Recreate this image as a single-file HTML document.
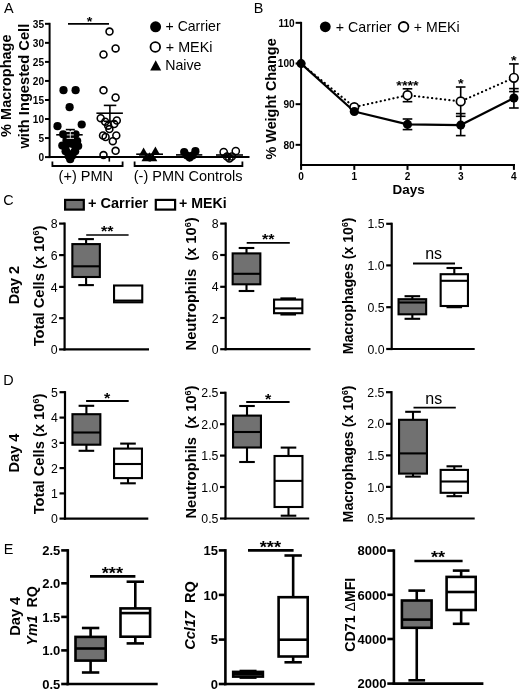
<!DOCTYPE html><html><head><meta charset="utf-8"><title>Figure</title><style>html,body{margin:0;padding:0;background:#fff}svg{display:block;filter:blur(0.35px)}text{fill:#000;font-family:"Liberation Sans",sans-serif}</style></head><body>
<svg width="520" height="690" viewBox="0 0 520 690">
<rect width="520" height="690" fill="#fff"/>
<text font-size="14.4" transform="translate(4 13.2)">A</text>
<text font-size="14.4" transform="translate(253.8 13.2)">B</text>
<text font-size="14.4" transform="translate(3.3 204.7)">C</text>
<text font-size="14.4" transform="translate(3.2 385)">D</text>
<text font-size="14.4" transform="translate(3.8 553.5)">E</text>
<line x1="49.6" y1="22.82" x2="49.6" y2="158.1" stroke="#000" stroke-width="2"/>
<line x1="48.6" y1="157.1" x2="249.5" y2="157.1" stroke="#000" stroke-width="2"/>
<line x1="45.0" y1="23.82" x2="49.6" y2="23.82" stroke="#000" stroke-width="2"/>
<text font-size="10.1" text-anchor="end" font-weight="bold" transform="translate(44.1 27.66)">35</text>
<line x1="45.0" y1="42.86" x2="49.6" y2="42.86" stroke="#000" stroke-width="2"/>
<text font-size="10.1" text-anchor="end" font-weight="bold" transform="translate(44.1 46.7)">30</text>
<line x1="45.0" y1="61.9" x2="49.6" y2="61.9" stroke="#000" stroke-width="2"/>
<text font-size="10.1" text-anchor="end" font-weight="bold" transform="translate(44.1 65.74)">25</text>
<line x1="45.0" y1="80.94" x2="49.6" y2="80.94" stroke="#000" stroke-width="2"/>
<text font-size="10.1" text-anchor="end" font-weight="bold" transform="translate(44.1 84.78)">20</text>
<line x1="45.0" y1="99.98" x2="49.6" y2="99.98" stroke="#000" stroke-width="2"/>
<text font-size="10.1" text-anchor="end" font-weight="bold" transform="translate(44.1 103.82)">15</text>
<line x1="45.0" y1="119.02" x2="49.6" y2="119.02" stroke="#000" stroke-width="2"/>
<text font-size="10.1" text-anchor="end" font-weight="bold" transform="translate(44.1 122.86)">10</text>
<line x1="45.0" y1="138.06" x2="49.6" y2="138.06" stroke="#000" stroke-width="2"/>
<text font-size="10.1" text-anchor="end" font-weight="bold" transform="translate(44.1 141.9)">5</text>
<line x1="45.0" y1="157.1" x2="49.6" y2="157.1" stroke="#000" stroke-width="2"/>
<text font-size="10.1" text-anchor="end" font-weight="bold" transform="translate(44.1 160.94)">0</text>
<text font-size="13.9" text-anchor="middle" font-weight="bold" transform="translate(10.7 85.7) rotate(-90) scale(1.0446 1)">% Macrophage</text>
<text font-size="13.9" text-anchor="middle" font-weight="bold" transform="translate(29 86.2) rotate(-90) scale(1.0568 1)">with Ingested Cell</text>
<line x1="68" y1="23.8" x2="109" y2="23.8" stroke="#000" stroke-width="1.8"/>
<text font-size="12.8" text-anchor="middle" font-weight="bold" transform="translate(89.6 25.5) scale(1.1235 1)">*</text>
<line x1="70.3" y1="157.1" x2="70.3" y2="161.6" stroke="#000" stroke-width="1.6"/>
<line x1="109.3" y1="157.1" x2="109.3" y2="161.6" stroke="#000" stroke-width="1.6"/>
<line x1="150" y1="157.1" x2="150" y2="161.6" stroke="#000" stroke-width="1.6"/>
<line x1="189.5" y1="157.1" x2="189.5" y2="161.6" stroke="#000" stroke-width="1.6"/>
<line x1="229" y1="157.1" x2="229" y2="161.6" stroke="#000" stroke-width="1.6"/>
<circle cx="63.5" cy="90.2" r="4.1" fill="#000"/>
<circle cx="75.6" cy="90.2" r="4.1" fill="#000"/>
<circle cx="69.6" cy="107.2" r="4.1" fill="#000"/>
<circle cx="57.5" cy="126.2" r="4.1" fill="#000"/>
<circle cx="81.7" cy="124.5" r="4.1" fill="#000"/>
<circle cx="63.2" cy="134.3" r="4.1" fill="#000"/>
<circle cx="75.6" cy="134.3" r="4.1" fill="#000"/>
<circle cx="69.5" cy="135.5" r="4.1" fill="#000"/>
<circle cx="66.5" cy="140.4" r="4.1" fill="#000"/>
<circle cx="73" cy="140.4" r="4.1" fill="#000"/>
<circle cx="77.2" cy="141" r="4.1" fill="#000"/>
<circle cx="62.3" cy="145.6" r="4.1" fill="#000"/>
<circle cx="68" cy="145" r="4.1" fill="#000"/>
<circle cx="73.5" cy="146" r="4.1" fill="#000"/>
<circle cx="78.2" cy="146" r="4.1" fill="#000"/>
<circle cx="65.6" cy="151.2" r="4.1" fill="#000"/>
<circle cx="70.5" cy="152.5" r="4.1" fill="#000"/>
<circle cx="75.2" cy="151.2" r="4.1" fill="#000"/>
<circle cx="68.6" cy="156" r="4.1" fill="#000"/>
<circle cx="72.4" cy="155.5" r="4.1" fill="#000"/>
<circle cx="70.2" cy="159.2" r="4.1" fill="#000"/>
<line x1="56.2" y1="134.8" x2="82.7" y2="134.8" stroke="#000" stroke-width="1.6"/>
<line x1="65.8" y1="129.6" x2="74.8" y2="129.6" stroke="#000" stroke-width="1.6"/>
<line x1="65.8" y1="139.6" x2="74.8" y2="139.6" stroke="#000" stroke-width="1.6"/>
<line x1="70.3" y1="129.6" x2="70.3" y2="139.6" stroke="#000" stroke-width="1.6"/>
<path d="M66.6 131.4H74M66.6 138.4H74M70.3 131.5V138.4M66.8 134.9H73.8" stroke="#fff" stroke-width="0.85" fill="none"/>
<path d="M69.2 147.2L71.8 148L70.3 150.6Z" fill="#fff"/>
<line x1="96.4" y1="113.2" x2="122.9" y2="113.2" stroke="#000" stroke-width="1.6"/>
<line x1="109.9" y1="105.4" x2="109.9" y2="121.3" stroke="#000" stroke-width="1.6"/>
<line x1="103.8" y1="105.4" x2="116.3" y2="105.4" stroke="#000" stroke-width="1.6"/>
<line x1="103.8" y1="121.3" x2="116.3" y2="121.3" stroke="#000" stroke-width="1.6"/>
<circle cx="109.5" cy="31.6" r="3.45" fill="none" stroke="#000" stroke-width="1.6"/>
<circle cx="115.6" cy="48.4" r="3.45" fill="none" stroke="#000" stroke-width="1.6"/>
<circle cx="103.5" cy="54.5" r="3.45" fill="none" stroke="#000" stroke-width="1.6"/>
<circle cx="103.5" cy="90.3" r="3.45" fill="none" stroke="#000" stroke-width="1.6"/>
<circle cx="115.6" cy="97.5" r="3.45" fill="none" stroke="#000" stroke-width="1.6"/>
<circle cx="100.7" cy="118.2" r="3.45" fill="none" stroke="#000" stroke-width="1.6"/>
<circle cx="116.8" cy="120.5" r="3.45" fill="none" stroke="#000" stroke-width="1.6"/>
<circle cx="105.2" cy="121.7" r="3.45" fill="none" stroke="#000" stroke-width="1.6"/>
<circle cx="114.2" cy="124" r="3.45" fill="none" stroke="#000" stroke-width="1.6"/>
<circle cx="108.2" cy="125.7" r="3.45" fill="none" stroke="#000" stroke-width="1.6"/>
<circle cx="109.4" cy="129.1" r="3.45" fill="none" stroke="#000" stroke-width="1.6"/>
<circle cx="103" cy="135.5" r="3.45" fill="none" stroke="#000" stroke-width="1.6"/>
<circle cx="116.3" cy="135.5" r="3.45" fill="none" stroke="#000" stroke-width="1.6"/>
<circle cx="105.6" cy="137" r="3.45" fill="none" stroke="#000" stroke-width="1.6"/>
<circle cx="112.8" cy="141.2" r="3.45" fill="none" stroke="#000" stroke-width="1.6"/>
<circle cx="115.6" cy="150.8" r="3.45" fill="none" stroke="#000" stroke-width="1.6"/>
<circle cx="103.5" cy="155.1" r="3.45" fill="none" stroke="#000" stroke-width="1.6"/>
<line x1="136.2" y1="154.2" x2="163" y2="154.2" stroke="#000" stroke-width="1.6"/>
<path d="M143.6 147.4L148.29999999999998 155.8H138.9Z" fill="#000"/>
<path d="M155.4 146.4L160.1 154.8H150.70000000000002Z" fill="#000"/>
<path d="M149.5 152.2L154.2 160.6H144.8Z" fill="#000"/>
<path d="M146.2 152.8L150.89999999999998 161.20000000000002H141.5Z" fill="#000"/>
<path d="M152.6 152.8L157.29999999999998 161.20000000000002H147.9Z" fill="#000"/>
<line x1="176" y1="154.9" x2="202.3" y2="154.9" stroke="#000" stroke-width="1.6"/>
<circle cx="184.2" cy="152" r="4.1" fill="#000"/>
<circle cx="195.4" cy="151.2" r="4.1" fill="#000"/>
<circle cx="189.7" cy="157.5" r="4.1" fill="#000"/>
<circle cx="187" cy="155.5" r="4.1" fill="#000"/>
<circle cx="192.6" cy="155.5" r="4.1" fill="#000"/>
<line x1="216" y1="155" x2="243" y2="155" stroke="#000" stroke-width="1.6"/>
<circle cx="223.7" cy="152.1" r="3.6" fill="none" stroke="#000" stroke-width="1.5"/>
<circle cx="235.8" cy="151" r="3.6" fill="none" stroke="#000" stroke-width="1.5"/>
<circle cx="227" cy="156.5" r="3.6" fill="none" stroke="#000" stroke-width="1.5"/>
<circle cx="231.8" cy="156.5" r="3.6" fill="none" stroke="#000" stroke-width="1.5"/>
<circle cx="229.4" cy="158.3" r="3.6" fill="none" stroke="#000" stroke-width="1.5"/>
<path d="M52.4 161.5V166H122.6V161.5" fill="none" stroke="#000" stroke-width="1.8"/>
<path d="M134.6 161.5V166H242.4V161.5" fill="none" stroke="#000" stroke-width="1.8"/>
<text font-size="14.5" text-anchor="middle" transform="translate(85.8 180.7)">(+) PMN</text>
<text font-size="14.5" text-anchor="middle" transform="translate(188.1 180.7)">(-) PMN Controls</text>
<circle cx="155.6" cy="26.8" r="5.5" fill="#000"/>
<text font-size="14.2" transform="translate(165.5 31.3) scale(0.9929 1)">+ Carrier</text>
<circle cx="155.3" cy="47" r="4.8" fill="none" stroke="#000" stroke-width="1.8"/>
<text font-size="14.2" transform="translate(165.8 51.9) scale(1.0103 1)">+ MEKi</text>
<path d="M155.7 60.2L161.2 70.4H150.2Z" fill="#000"/>
<text font-size="14.2" transform="translate(165.2 70.4) scale(0.9978 1)">Naive</text>
<line x1="301.1" y1="21.83" x2="301.1" y2="165.9" stroke="#000" stroke-width="2"/>
<line x1="300.1" y1="164.9" x2="515" y2="164.9" stroke="#000" stroke-width="2"/>
<line x1="295.6" y1="22.83" x2="301.1" y2="22.83" stroke="#000" stroke-width="2"/>
<text font-size="10.1" text-anchor="end" font-weight="bold" transform="translate(294.70000000000005 26.67)">110</text>
<line x1="295.6" y1="63.5" x2="301.1" y2="63.5" stroke="#000" stroke-width="2"/>
<text font-size="10.1" text-anchor="end" font-weight="bold" transform="translate(294.70000000000005 67.34)">100</text>
<line x1="295.6" y1="104.17" x2="301.1" y2="104.17" stroke="#000" stroke-width="2"/>
<text font-size="10.1" text-anchor="end" font-weight="bold" transform="translate(294.70000000000005 108.01)">90</text>
<line x1="295.6" y1="144.84" x2="301.1" y2="144.84" stroke="#000" stroke-width="2"/>
<text font-size="10.1" text-anchor="end" font-weight="bold" transform="translate(294.70000000000005 148.68)">80</text>
<line x1="301.1" y1="164.9" x2="301.1" y2="169.9" stroke="#000" stroke-width="2"/>
<text font-size="10.1" text-anchor="middle" font-weight="bold" transform="translate(301.1 180.3)">0</text>
<line x1="354.3" y1="164.9" x2="354.3" y2="169.9" stroke="#000" stroke-width="2"/>
<text font-size="10.1" text-anchor="middle" font-weight="bold" transform="translate(354.3 180.3)">1</text>
<line x1="407.5" y1="164.9" x2="407.5" y2="169.9" stroke="#000" stroke-width="2"/>
<text font-size="10.1" text-anchor="middle" font-weight="bold" transform="translate(407.5 180.3)">2</text>
<line x1="460.7" y1="164.9" x2="460.7" y2="169.9" stroke="#000" stroke-width="2"/>
<text font-size="10.1" text-anchor="middle" font-weight="bold" transform="translate(460.7 180.3)">3</text>
<line x1="513.9" y1="164.9" x2="513.9" y2="169.9" stroke="#000" stroke-width="2"/>
<text font-size="10.1" text-anchor="middle" font-weight="bold" transform="translate(513.9 180.3)">4</text>
<text font-size="13.6" text-anchor="middle" font-weight="bold" transform="translate(408.7 194.2) scale(0.9908 1)">Days</text>
<text font-size="13.9" text-anchor="middle" font-weight="bold" transform="translate(275.8 98.9) rotate(-90) scale(1.0355 1)">% Weight Change</text>
<circle cx="325.3" cy="26.8" r="5.4" fill="#000"/>
<text font-size="14.2" transform="translate(335.8 32) scale(1.0037 1)">+ Carrier</text>
<circle cx="403.6" cy="26.8" r="4.8" fill="none" stroke="#000" stroke-width="1.8"/>
<text font-size="14.2" transform="translate(413.8 32) scale(0.993 1)">+ MEKi</text>
<polyline points="301.1,63.6 354.3,107.1 407.5,95.2 460.7,101.4 513.9,77.8" fill="none" stroke="#000" stroke-width="2.1" stroke-dasharray="0.2 4.15" stroke-linecap="round"/>
<polyline points="301.1,63.6 354.3,111.5 407.5,124.4 460.7,125.1 513.9,98" fill="none" stroke="#000" stroke-width="2.2" stroke-linejoin="round"/>
<line x1="407.5" y1="88.8" x2="407.5" y2="101.7" stroke="#000" stroke-width="1.6"/>
<line x1="402.7" y1="88.8" x2="412.3" y2="88.8" stroke="#000" stroke-width="1.6"/>
<line x1="402.7" y1="101.7" x2="412.3" y2="101.7" stroke="#000" stroke-width="1.6"/>
<line x1="460.7" y1="87" x2="460.7" y2="116.3" stroke="#000" stroke-width="1.6"/>
<line x1="455.9" y1="87" x2="465.5" y2="87" stroke="#000" stroke-width="1.6"/>
<line x1="455.9" y1="116.3" x2="465.5" y2="116.3" stroke="#000" stroke-width="1.6"/>
<line x1="513.9" y1="63.9" x2="513.9" y2="91.6" stroke="#000" stroke-width="1.6"/>
<line x1="509.09999999999997" y1="63.9" x2="518.6999999999999" y2="63.9" stroke="#000" stroke-width="1.6"/>
<line x1="509.09999999999997" y1="91.6" x2="518.6999999999999" y2="91.6" stroke="#000" stroke-width="1.6"/>
<line x1="407.5" y1="119" x2="407.5" y2="129.6" stroke="#000" stroke-width="1.6"/>
<line x1="402.7" y1="119" x2="412.3" y2="119" stroke="#000" stroke-width="1.6"/>
<line x1="402.7" y1="129.6" x2="412.3" y2="129.6" stroke="#000" stroke-width="1.6"/>
<line x1="460.7" y1="113.6" x2="460.7" y2="135.6" stroke="#000" stroke-width="1.6"/>
<line x1="455.9" y1="113.6" x2="465.5" y2="113.6" stroke="#000" stroke-width="1.6"/>
<line x1="455.9" y1="135.6" x2="465.5" y2="135.6" stroke="#000" stroke-width="1.6"/>
<line x1="513.9" y1="88.6" x2="513.9" y2="108" stroke="#000" stroke-width="1.6"/>
<line x1="509.09999999999997" y1="88.6" x2="518.6999999999999" y2="88.6" stroke="#000" stroke-width="1.6"/>
<line x1="509.09999999999997" y1="108" x2="518.6999999999999" y2="108" stroke="#000" stroke-width="1.6"/>
<circle cx="354.3" cy="107.1" r="4.3" fill="#fff" stroke="#000" stroke-width="1.7"/>
<circle cx="407.5" cy="95.2" r="4.3" fill="#fff" stroke="#000" stroke-width="1.7"/>
<circle cx="460.7" cy="101.4" r="4.3" fill="#fff" stroke="#000" stroke-width="1.7"/>
<circle cx="513.9" cy="77.8" r="4.3" fill="#fff" stroke="#000" stroke-width="1.7"/>
<circle cx="301.1" cy="63.6" r="4.55" fill="#000"/>
<circle cx="354.3" cy="111.5" r="4.55" fill="#000"/>
<circle cx="407.5" cy="124.4" r="4.55" fill="#000"/>
<circle cx="460.7" cy="125.1" r="4.55" fill="#000"/>
<circle cx="513.9" cy="98" r="4.55" fill="#000"/>
<text font-size="12.8" text-anchor="middle" font-weight="bold" transform="translate(407.5 89.7) scale(1.1244 1)">****</text>
<text font-size="12.8" text-anchor="middle" font-weight="bold" transform="translate(460.7 88.2) scale(1.1235 1)">*</text>
<text font-size="12.8" text-anchor="middle" font-weight="bold" transform="translate(513.9 64.5) scale(1.1235 1)">*</text>
<rect x="65.1" y="199.9" width="18.7" height="9.7" fill="#717171" stroke="#000" stroke-width="2.2"/>
<text font-size="13.9" font-weight="bold" transform="translate(88 208.2) scale(1.0464 1)">+ Carrier</text>
<rect x="155.8" y="199.9" width="19.3" height="9.7" fill="#fff" stroke="#000" stroke-width="2.2"/>
<text font-size="13.9" font-weight="bold" transform="translate(179 208.2) scale(1.0192 1)">+ MEKi</text>
<line x1="64.6" y1="222.5" x2="64.6" y2="350.5" stroke="#000" stroke-width="2.2"/>
<line x1="63.49999999999999" y1="349.4" x2="149" y2="349.4" stroke="#000" stroke-width="2.2"/>
<line x1="59.099999999999994" y1="223.6" x2="64.6" y2="223.6" stroke="#000" stroke-width="2.2"/>
<text font-size="12.3" text-anchor="end" transform="translate(57.49999999999999 228.23)">8</text>
<line x1="59.099999999999994" y1="255.1" x2="64.6" y2="255.1" stroke="#000" stroke-width="2.2"/>
<text font-size="12.3" text-anchor="end" transform="translate(57.49999999999999 259.73)">6</text>
<line x1="59.099999999999994" y1="286.9" x2="64.6" y2="286.9" stroke="#000" stroke-width="2.2"/>
<text font-size="12.3" text-anchor="end" transform="translate(57.49999999999999 291.53)">4</text>
<line x1="59.099999999999994" y1="318.2" x2="64.6" y2="318.2" stroke="#000" stroke-width="2.2"/>
<text font-size="12.3" text-anchor="end" transform="translate(57.49999999999999 322.83)">2</text>
<line x1="59.099999999999994" y1="349.4" x2="64.6" y2="349.4" stroke="#000" stroke-width="2.2"/>
<text font-size="12.3" text-anchor="end" transform="translate(57.49999999999999 354.03)">0</text>
<line x1="86.1" y1="239.1" x2="86.1" y2="244.1" stroke="#000" stroke-width="2.1"/>
<line x1="86.1" y1="277" x2="86.1" y2="285.1" stroke="#000" stroke-width="2.1"/>
<line x1="78.3" y1="239.1" x2="93.89999999999999" y2="239.1" stroke="#000" stroke-width="2.1"/>
<line x1="78.3" y1="285.1" x2="93.89999999999999" y2="285.1" stroke="#000" stroke-width="2.1"/>
<rect x="72.35" y="244.1" width="27.5" height="32.9" fill="#717171" stroke="#000" stroke-width="2.1"/>
<line x1="72.35" y1="266.3" x2="99.85000000000001" y2="266.3" stroke="#000" stroke-width="2.1"/>
<rect x="114.05" y="285.5" width="28.2" height="16.8" fill="#fff" stroke="#000" stroke-width="2.1"/>
<line x1="114.05" y1="300.6" x2="142.25" y2="300.6" stroke="#000" stroke-width="2.1"/>
<line x1="86.2" y1="235" x2="128.6" y2="235" stroke="#000" stroke-width="1.7"/>
<text font-size="14" text-anchor="middle" font-weight="bold" transform="translate(107.3 236.2) scale(1.1461 1)">**</text>
<text font-size="13.9" text-anchor="middle" font-weight="bold" transform="translate(44.1 286) rotate(-90) scale(1.0569 1)">Total Cells (x 10<tspan font-size="8.5" dy="-5">6</tspan><tspan dy="5">)</tspan></text>
<text font-size="13.9" text-anchor="middle" font-weight="bold" transform="translate(19.4 285.1) rotate(-90) scale(1.0357 1)">Day 2</text>
<line x1="225.7" y1="222.5" x2="225.7" y2="350.3" stroke="#000" stroke-width="2.2"/>
<line x1="224.6" y1="349.2" x2="310.5" y2="349.2" stroke="#000" stroke-width="2.2"/>
<line x1="220.2" y1="223.6" x2="225.7" y2="223.6" stroke="#000" stroke-width="2.2"/>
<text font-size="12.3" text-anchor="end" transform="translate(218.6 228.23)">8</text>
<line x1="220.2" y1="255" x2="225.7" y2="255" stroke="#000" stroke-width="2.2"/>
<text font-size="12.3" text-anchor="end" transform="translate(218.6 259.63)">6</text>
<line x1="220.2" y1="286.8" x2="225.7" y2="286.8" stroke="#000" stroke-width="2.2"/>
<text font-size="12.3" text-anchor="end" transform="translate(218.6 291.43)">4</text>
<line x1="220.2" y1="318" x2="225.7" y2="318" stroke="#000" stroke-width="2.2"/>
<text font-size="12.3" text-anchor="end" transform="translate(218.6 322.63)">2</text>
<line x1="220.2" y1="349.2" x2="225.7" y2="349.2" stroke="#000" stroke-width="2.2"/>
<text font-size="12.3" text-anchor="end" transform="translate(218.6 353.83)">0</text>
<line x1="246.5" y1="248" x2="246.5" y2="253.4" stroke="#000" stroke-width="2.1"/>
<line x1="246.5" y1="284.3" x2="246.5" y2="291" stroke="#000" stroke-width="2.1"/>
<line x1="238.7" y1="248" x2="254.3" y2="248" stroke="#000" stroke-width="2.1"/>
<line x1="238.7" y1="291" x2="254.3" y2="291" stroke="#000" stroke-width="2.1"/>
<rect x="232.65" y="253.4" width="27.7" height="30.9" fill="#717171" stroke="#000" stroke-width="2.1"/>
<line x1="232.65" y1="273.8" x2="260.34999999999997" y2="273.8" stroke="#000" stroke-width="2.1"/>
<line x1="288.2" y1="298.4" x2="288.2" y2="299.6" stroke="#000" stroke-width="2.1"/>
<line x1="288.2" y1="313.2" x2="288.2" y2="314.5" stroke="#000" stroke-width="2.1"/>
<line x1="280.4" y1="298.4" x2="296.0" y2="298.4" stroke="#000" stroke-width="2.1"/>
<line x1="280.4" y1="314.5" x2="296.0" y2="314.5" stroke="#000" stroke-width="2.1"/>
<rect x="274.05" y="299.6" width="28.3" height="13.6" fill="#fff" stroke="#000" stroke-width="2.1"/>
<line x1="274.05" y1="308.4" x2="302.34999999999997" y2="308.4" stroke="#000" stroke-width="2.1"/>
<line x1="246.7" y1="242.9" x2="289.8" y2="242.9" stroke="#000" stroke-width="1.8"/>
<text font-size="14" text-anchor="middle" font-weight="bold" transform="translate(268.2 244) scale(1.1461 1)">**</text>
<text font-size="13.9" text-anchor="middle" font-weight="bold" transform="translate(195.9 283.9) rotate(-90) scale(1.0561 1)" xml:space="preserve">Neutrophils  (x 10<tspan font-size="8.5" dy="-5">6</tspan><tspan dy="5">)</tspan></text>
<line x1="391.7" y1="222.70000000000002" x2="391.7" y2="350.1" stroke="#000" stroke-width="2.2"/>
<line x1="390.59999999999997" y1="349" x2="474.7" y2="349" stroke="#000" stroke-width="2.2"/>
<line x1="386.2" y1="223.8" x2="391.7" y2="223.8" stroke="#000" stroke-width="2.2"/>
<text font-size="12.3" text-anchor="end" transform="translate(384.59999999999997 228.43)">1.5</text>
<line x1="386.2" y1="265.4" x2="391.7" y2="265.4" stroke="#000" stroke-width="2.2"/>
<text font-size="12.3" text-anchor="end" transform="translate(384.59999999999997 270.03)">1.0</text>
<line x1="386.2" y1="307.2" x2="391.7" y2="307.2" stroke="#000" stroke-width="2.2"/>
<text font-size="12.3" text-anchor="end" transform="translate(384.59999999999997 311.83)">0.5</text>
<line x1="386.2" y1="349" x2="391.7" y2="349" stroke="#000" stroke-width="2.2"/>
<text font-size="12.3" text-anchor="end" transform="translate(384.59999999999997 353.63)">0.0</text>
<line x1="412.35" y1="296.2" x2="412.35" y2="299.2" stroke="#000" stroke-width="2.1"/>
<line x1="412.35" y1="314.3" x2="412.35" y2="318.8" stroke="#000" stroke-width="2.1"/>
<line x1="404.55" y1="296.2" x2="420.15000000000003" y2="296.2" stroke="#000" stroke-width="2.1"/>
<line x1="404.55" y1="318.8" x2="420.15000000000003" y2="318.8" stroke="#000" stroke-width="2.1"/>
<rect x="398.55" y="299.2" width="27.6" height="15.1" fill="#717171" stroke="#000" stroke-width="2.1"/>
<line x1="398.55" y1="302.5" x2="426.15" y2="302.5" stroke="#000" stroke-width="2.1"/>
<line x1="454.3" y1="268" x2="454.3" y2="274.2" stroke="#000" stroke-width="2.1"/>
<line x1="454.3" y1="306" x2="454.3" y2="307.2" stroke="#000" stroke-width="2.1"/>
<line x1="446.5" y1="268" x2="462.1" y2="268" stroke="#000" stroke-width="2.1"/>
<line x1="446.5" y1="307.2" x2="462.1" y2="307.2" stroke="#000" stroke-width="2.1"/>
<rect x="440.65000000000003" y="274.2" width="27.3" height="31.8" fill="#fff" stroke="#000" stroke-width="2.1"/>
<line x1="440.65000000000003" y1="280.8" x2="467.95" y2="280.8" stroke="#000" stroke-width="2.1"/>
<line x1="413" y1="263.5" x2="455" y2="263.5" stroke="#000" stroke-width="1.8"/>
<text font-size="16" text-anchor="middle" transform="translate(433.6 259.3)">ns</text>
<text font-size="13.9" text-anchor="middle" font-weight="bold" transform="translate(352.9 285.9) rotate(-90) scale(1.0175 1)">Macrophages (x 10<tspan font-size="8.5" dy="-5">6</tspan><tspan dy="5">)</tspan></text>
<line x1="65" y1="391.09999999999997" x2="65" y2="519.7" stroke="#000" stroke-width="2.2"/>
<line x1="63.9" y1="518.6" x2="148.3" y2="518.6" stroke="#000" stroke-width="2.2"/>
<line x1="59.5" y1="392.2" x2="65" y2="392.2" stroke="#000" stroke-width="2.2"/>
<text font-size="12.3" text-anchor="end" transform="translate(57.9 396.83)">5</text>
<line x1="59.5" y1="417.6" x2="65" y2="417.6" stroke="#000" stroke-width="2.2"/>
<text font-size="12.3" text-anchor="end" transform="translate(57.9 422.23)">4</text>
<line x1="59.5" y1="442.9" x2="65" y2="442.9" stroke="#000" stroke-width="2.2"/>
<text font-size="12.3" text-anchor="end" transform="translate(57.9 447.53)">3</text>
<line x1="59.5" y1="468.1" x2="65" y2="468.1" stroke="#000" stroke-width="2.2"/>
<text font-size="12.3" text-anchor="end" transform="translate(57.9 472.73)">2</text>
<line x1="59.5" y1="493.4" x2="65" y2="493.4" stroke="#000" stroke-width="2.2"/>
<text font-size="12.3" text-anchor="end" transform="translate(57.9 498.03)">1</text>
<line x1="59.5" y1="518.6" x2="65" y2="518.6" stroke="#000" stroke-width="2.2"/>
<text font-size="12.3" text-anchor="end" transform="translate(57.9 523.23)">0</text>
<line x1="86.4" y1="405.8" x2="86.4" y2="414.2" stroke="#000" stroke-width="2.1"/>
<line x1="86.4" y1="444.7" x2="86.4" y2="450.8" stroke="#000" stroke-width="2.1"/>
<line x1="78.60000000000001" y1="405.8" x2="94.2" y2="405.8" stroke="#000" stroke-width="2.1"/>
<line x1="78.60000000000001" y1="450.8" x2="94.2" y2="450.8" stroke="#000" stroke-width="2.1"/>
<rect x="72.45" y="414.2" width="27.9" height="30.5" fill="#717171" stroke="#000" stroke-width="2.1"/>
<line x1="72.45" y1="432.5" x2="100.35000000000001" y2="432.5" stroke="#000" stroke-width="2.1"/>
<line x1="128.0" y1="443.6" x2="128.0" y2="448.6" stroke="#000" stroke-width="2.1"/>
<line x1="128.0" y1="478.1" x2="128.0" y2="483.3" stroke="#000" stroke-width="2.1"/>
<line x1="120.2" y1="443.6" x2="135.8" y2="443.6" stroke="#000" stroke-width="2.1"/>
<line x1="120.2" y1="483.3" x2="135.8" y2="483.3" stroke="#000" stroke-width="2.1"/>
<rect x="114.05" y="448.6" width="27.9" height="29.5" fill="#fff" stroke="#000" stroke-width="2.1"/>
<line x1="114.05" y1="464" x2="141.95" y2="464" stroke="#000" stroke-width="2.1"/>
<line x1="86.1" y1="401" x2="128.7" y2="401" stroke="#000" stroke-width="1.8"/>
<text font-size="14" text-anchor="middle" font-weight="bold" transform="translate(107.2 402.8) scale(1.1553 1)">*</text>
<text font-size="13.9" text-anchor="middle" font-weight="bold" transform="translate(44.1 454) rotate(-90) scale(1.0569 1)">Total Cells (x 10<tspan font-size="8.5" dy="-5">6</tspan><tspan dy="5">)</tspan></text>
<text font-size="13.9" text-anchor="middle" font-weight="bold" transform="translate(19.4 453) rotate(-90) scale(1.0518 1)">Day 4</text>
<line x1="225.5" y1="391.7" x2="225.5" y2="519.6" stroke="#000" stroke-width="2.2"/>
<line x1="224.4" y1="518.5" x2="309.2" y2="518.5" stroke="#000" stroke-width="2.2"/>
<line x1="220.0" y1="392.8" x2="225.5" y2="392.8" stroke="#000" stroke-width="2.2"/>
<text font-size="12.3" text-anchor="end" transform="translate(218.4 397.43)">2.5</text>
<line x1="220.0" y1="424.2" x2="225.5" y2="424.2" stroke="#000" stroke-width="2.2"/>
<text font-size="12.3" text-anchor="end" transform="translate(218.4 428.83)">2.0</text>
<line x1="220.0" y1="455.6" x2="225.5" y2="455.6" stroke="#000" stroke-width="2.2"/>
<text font-size="12.3" text-anchor="end" transform="translate(218.4 460.23)">1.5</text>
<line x1="220.0" y1="487" x2="225.5" y2="487" stroke="#000" stroke-width="2.2"/>
<text font-size="12.3" text-anchor="end" transform="translate(218.4 491.63)">1.0</text>
<line x1="220.0" y1="518.5" x2="225.5" y2="518.5" stroke="#000" stroke-width="2.2"/>
<text font-size="12.3" text-anchor="end" transform="translate(218.4 523.13)">0.5</text>
<line x1="247.0" y1="406" x2="247.0" y2="415.6" stroke="#000" stroke-width="2.1"/>
<line x1="247.0" y1="447.5" x2="247.0" y2="462" stroke="#000" stroke-width="2.1"/>
<line x1="239.2" y1="406" x2="254.8" y2="406" stroke="#000" stroke-width="2.1"/>
<line x1="239.2" y1="462" x2="254.8" y2="462" stroke="#000" stroke-width="2.1"/>
<rect x="233.05" y="415.6" width="27.9" height="31.9" fill="#717171" stroke="#000" stroke-width="2.1"/>
<line x1="233.05" y1="432" x2="260.95" y2="432" stroke="#000" stroke-width="2.1"/>
<line x1="288.5" y1="447.6" x2="288.5" y2="456" stroke="#000" stroke-width="2.1"/>
<line x1="288.5" y1="507" x2="288.5" y2="515.7" stroke="#000" stroke-width="2.1"/>
<line x1="280.7" y1="447.6" x2="296.3" y2="447.6" stroke="#000" stroke-width="2.1"/>
<line x1="280.7" y1="515.7" x2="296.3" y2="515.7" stroke="#000" stroke-width="2.1"/>
<rect x="274.55" y="456" width="27.9" height="51" fill="#fff" stroke="#000" stroke-width="2.1"/>
<line x1="274.55" y1="480.9" x2="302.45" y2="480.9" stroke="#000" stroke-width="2.1"/>
<line x1="246.2" y1="402" x2="289.6" y2="402" stroke="#000" stroke-width="1.8"/>
<text font-size="14" text-anchor="middle" font-weight="bold" transform="translate(268.2 403.6) scale(1.1553 1)">*</text>
<text font-size="13.9" text-anchor="middle" font-weight="bold" transform="translate(195.9 452) rotate(-90) scale(1.0561 1)" xml:space="preserve">Neutrophils  (x 10<tspan font-size="8.5" dy="-5">6</tspan><tspan dy="5">)</tspan></text>
<line x1="391.5" y1="391.09999999999997" x2="391.5" y2="519.6" stroke="#000" stroke-width="2.2"/>
<line x1="390.4" y1="518.5" x2="474.7" y2="518.5" stroke="#000" stroke-width="2.2"/>
<line x1="386.0" y1="392.2" x2="391.5" y2="392.2" stroke="#000" stroke-width="2.2"/>
<text font-size="12.3" text-anchor="end" transform="translate(384.4 396.83)">2.5</text>
<line x1="386.0" y1="423.8" x2="391.5" y2="423.8" stroke="#000" stroke-width="2.2"/>
<text font-size="12.3" text-anchor="end" transform="translate(384.4 428.43)">2.0</text>
<line x1="386.0" y1="455.4" x2="391.5" y2="455.4" stroke="#000" stroke-width="2.2"/>
<text font-size="12.3" text-anchor="end" transform="translate(384.4 460.03)">1.5</text>
<line x1="386.0" y1="486.9" x2="391.5" y2="486.9" stroke="#000" stroke-width="2.2"/>
<text font-size="12.3" text-anchor="end" transform="translate(384.4 491.53)">1.0</text>
<line x1="386.0" y1="518.5" x2="391.5" y2="518.5" stroke="#000" stroke-width="2.2"/>
<text font-size="12.3" text-anchor="end" transform="translate(384.4 523.13)">0.5</text>
<line x1="413.0" y1="411.8" x2="413.0" y2="419.8" stroke="#000" stroke-width="2.1"/>
<line x1="413.0" y1="473.6" x2="413.0" y2="476.6" stroke="#000" stroke-width="2.1"/>
<line x1="405.2" y1="411.8" x2="420.8" y2="411.8" stroke="#000" stroke-width="2.1"/>
<line x1="405.2" y1="476.6" x2="420.8" y2="476.6" stroke="#000" stroke-width="2.1"/>
<rect x="399.05" y="419.8" width="27.9" height="53.8" fill="#717171" stroke="#000" stroke-width="2.1"/>
<line x1="399.05" y1="453.4" x2="426.95" y2="453.4" stroke="#000" stroke-width="2.1"/>
<line x1="454.3" y1="466.3" x2="454.3" y2="469.9" stroke="#000" stroke-width="2.1"/>
<line x1="454.3" y1="492.8" x2="454.3" y2="496.2" stroke="#000" stroke-width="2.1"/>
<line x1="446.5" y1="466.3" x2="462.1" y2="466.3" stroke="#000" stroke-width="2.1"/>
<line x1="446.5" y1="496.2" x2="462.1" y2="496.2" stroke="#000" stroke-width="2.1"/>
<rect x="440.65000000000003" y="469.9" width="27.3" height="22.9" fill="#fff" stroke="#000" stroke-width="2.1"/>
<line x1="440.65000000000003" y1="481.5" x2="467.95" y2="481.5" stroke="#000" stroke-width="2.1"/>
<line x1="413.5" y1="407.7" x2="455.8" y2="407.7" stroke="#000" stroke-width="1.8"/>
<text font-size="16" text-anchor="middle" transform="translate(433.8 403.8)">ns</text>
<text font-size="13.9" text-anchor="middle" font-weight="bold" transform="translate(352.9 454) rotate(-90) scale(1.0175 1)">Macrophages (x 10<tspan font-size="8.5" dy="-5">6</tspan><tspan dy="5">)</tspan></text>
<line x1="67.8" y1="549.1" x2="67.8" y2="685.3" stroke="#000" stroke-width="2.6"/>
<line x1="66.5" y1="684" x2="157.7" y2="684" stroke="#000" stroke-width="2.6"/>
<line x1="61.199999999999996" y1="550.4" x2="67.8" y2="550.4" stroke="#000" stroke-width="2.6"/>
<text font-size="13" text-anchor="end" font-weight="bold" transform="translate(60.3 555.28)">2.5</text>
<line x1="61.199999999999996" y1="583.3" x2="67.8" y2="583.3" stroke="#000" stroke-width="2.6"/>
<text font-size="13" text-anchor="end" font-weight="bold" transform="translate(60.3 588.18)">2.0</text>
<line x1="61.199999999999996" y1="616.9" x2="67.8" y2="616.9" stroke="#000" stroke-width="2.6"/>
<text font-size="13" text-anchor="end" font-weight="bold" transform="translate(60.3 621.78)">1.5</text>
<line x1="61.199999999999996" y1="650.4" x2="67.8" y2="650.4" stroke="#000" stroke-width="2.6"/>
<text font-size="13" text-anchor="end" font-weight="bold" transform="translate(60.3 655.28)">1.0</text>
<line x1="61.199999999999996" y1="684" x2="67.8" y2="684" stroke="#000" stroke-width="2.6"/>
<text font-size="13" text-anchor="end" font-weight="bold" transform="translate(60.3 688.88)">0.5</text>
<line x1="90.6" y1="628" x2="90.6" y2="636.9" stroke="#000" stroke-width="2.6"/>
<line x1="90.6" y1="660.6" x2="90.6" y2="672.5" stroke="#000" stroke-width="2.6"/>
<line x1="81.89999999999999" y1="628" x2="99.3" y2="628" stroke="#000" stroke-width="2.6"/>
<line x1="81.89999999999999" y1="672.5" x2="99.3" y2="672.5" stroke="#000" stroke-width="2.6"/>
<rect x="75.5" y="636.9" width="30.2" height="23.7" fill="#717171" stroke="#000" stroke-width="2.6"/>
<line x1="75.5" y1="648.5" x2="105.7" y2="648.5" stroke="#000" stroke-width="2.6"/>
<line x1="135.3" y1="581.7" x2="135.3" y2="608.4" stroke="#000" stroke-width="2.6"/>
<line x1="135.3" y1="636.7" x2="135.3" y2="643.4" stroke="#000" stroke-width="2.6"/>
<line x1="126.60000000000001" y1="581.7" x2="144.0" y2="581.7" stroke="#000" stroke-width="2.6"/>
<line x1="126.60000000000001" y1="643.4" x2="144.0" y2="643.4" stroke="#000" stroke-width="2.6"/>
<rect x="120.5" y="608.4" width="29.6" height="28.3" fill="#fff" stroke="#000" stroke-width="2.6"/>
<line x1="120.5" y1="613.1" x2="150.1" y2="613.1" stroke="#000" stroke-width="2.6"/>
<line x1="90" y1="576.3" x2="135.4" y2="576.3" stroke="#000" stroke-width="2.7"/>
<text font-size="17.2" text-anchor="middle" font-weight="bold" transform="translate(112.4 578.5) scale(1.0658 1)">***</text>
<text font-size="13.9" text-anchor="middle" font-weight="bold" transform="translate(19.6 616.3) rotate(-90) scale(1.0518 1)">Day 4</text>
<text font-size="13.9" text-anchor="middle" font-weight="bold" transform="translate(37.4 615.8) rotate(-90) scale(1.0275 1)" xml:space="preserve"><tspan font-style="italic">Ym1</tspan>  RQ</text>
<line x1="225.4" y1="549.1" x2="225.4" y2="685.3" stroke="#000" stroke-width="2.6"/>
<line x1="224.1" y1="684" x2="314.7" y2="684" stroke="#000" stroke-width="2.6"/>
<line x1="218.8" y1="550.4" x2="225.4" y2="550.4" stroke="#000" stroke-width="2.6"/>
<text font-size="13" text-anchor="end" font-weight="bold" transform="translate(217.9 555.28)">15</text>
<line x1="218.8" y1="594.9" x2="225.4" y2="594.9" stroke="#000" stroke-width="2.6"/>
<text font-size="13" text-anchor="end" font-weight="bold" transform="translate(217.9 599.78)">10</text>
<line x1="218.8" y1="639.6" x2="225.4" y2="639.6" stroke="#000" stroke-width="2.6"/>
<text font-size="13" text-anchor="end" font-weight="bold" transform="translate(217.9 644.48)">5</text>
<line x1="218.8" y1="684" x2="225.4" y2="684" stroke="#000" stroke-width="2.6"/>
<text font-size="13" text-anchor="end" font-weight="bold" transform="translate(217.9 688.88)">0</text>
<line x1="248.05" y1="671.0" x2="248.05" y2="671.9" stroke="#000" stroke-width="2.6"/>
<line x1="248.05" y1="676.6" x2="248.05" y2="677.6" stroke="#000" stroke-width="2.6"/>
<line x1="239.55" y1="671.0" x2="256.55" y2="671.0" stroke="#000" stroke-width="2.6"/>
<line x1="239.55" y1="677.6" x2="256.55" y2="677.6" stroke="#000" stroke-width="2.6"/>
<rect x="233.20000000000002" y="671.9" width="29.7" height="4.7" fill="#717171" stroke="#000" stroke-width="2.6"/>
<line x1="233.20000000000002" y1="673.7" x2="262.9" y2="673.7" stroke="#000" stroke-width="2.6"/>
<line x1="293.15" y1="555.5" x2="293.15" y2="597.2" stroke="#000" stroke-width="2.6"/>
<line x1="293.15" y1="656.5" x2="293.15" y2="662.3" stroke="#000" stroke-width="2.6"/>
<line x1="284.45" y1="555.5" x2="301.84999999999997" y2="555.5" stroke="#000" stroke-width="2.6"/>
<line x1="284.45" y1="662.3" x2="301.84999999999997" y2="662.3" stroke="#000" stroke-width="2.6"/>
<rect x="278.6" y="597.2" width="29.1" height="59.3" fill="#fff" stroke="#000" stroke-width="2.6"/>
<line x1="278.6" y1="639.7" x2="307.7" y2="639.7" stroke="#000" stroke-width="2.6"/>
<line x1="248" y1="550.4" x2="293.6" y2="550.4" stroke="#000" stroke-width="2.7"/>
<text font-size="17.2" text-anchor="middle" font-weight="bold" transform="translate(270.4 552.8) scale(1.0658 1)">***</text>
<text font-size="13.9" text-anchor="middle" font-weight="bold" transform="translate(194.7 615.5) rotate(-90) scale(1.0481 1)" xml:space="preserve"><tspan font-style="italic">Ccl17</tspan>  RQ</text>
<line x1="393.9" y1="549.3000000000001" x2="393.9" y2="684.9" stroke="#000" stroke-width="2.6"/>
<line x1="392.59999999999997" y1="683.6" x2="483.4" y2="683.6" stroke="#000" stroke-width="2.6"/>
<line x1="387.29999999999995" y1="550.6" x2="393.9" y2="550.6" stroke="#000" stroke-width="2.6"/>
<text font-size="13" text-anchor="end" font-weight="bold" transform="translate(386.4 555.48)">8000</text>
<line x1="387.29999999999995" y1="594.8" x2="393.9" y2="594.8" stroke="#000" stroke-width="2.6"/>
<text font-size="13" text-anchor="end" font-weight="bold" transform="translate(386.4 599.68)">6000</text>
<line x1="387.29999999999995" y1="639" x2="393.9" y2="639" stroke="#000" stroke-width="2.6"/>
<text font-size="13" text-anchor="end" font-weight="bold" transform="translate(386.4 643.88)">4000</text>
<line x1="387.29999999999995" y1="683.6" x2="393.9" y2="683.6" stroke="#000" stroke-width="2.6"/>
<text font-size="13" text-anchor="end" font-weight="bold" transform="translate(386.4 688.48)">2000</text>
<line x1="416.75" y1="590.6" x2="416.75" y2="600.5" stroke="#000" stroke-width="2.6"/>
<line x1="416.75" y1="627.8" x2="416.75" y2="680.3" stroke="#000" stroke-width="2.6"/>
<line x1="408.4" y1="590.6" x2="425.1" y2="590.6" stroke="#000" stroke-width="2.6"/>
<line x1="408.4" y1="680.3" x2="425.1" y2="680.3" stroke="#000" stroke-width="2.6"/>
<rect x="401.90000000000003" y="600.5" width="29.7" height="27.3" fill="#717171" stroke="#000" stroke-width="2.6"/>
<line x1="401.90000000000003" y1="619.6" x2="431.59999999999997" y2="619.6" stroke="#000" stroke-width="2.6"/>
<line x1="461.15" y1="570.6" x2="461.15" y2="576.9" stroke="#000" stroke-width="2.6"/>
<line x1="461.15" y1="610" x2="461.15" y2="623.8" stroke="#000" stroke-width="2.6"/>
<line x1="452.79999999999995" y1="570.6" x2="469.5" y2="570.6" stroke="#000" stroke-width="2.6"/>
<line x1="452.79999999999995" y1="623.8" x2="469.5" y2="623.8" stroke="#000" stroke-width="2.6"/>
<rect x="446.6" y="576.9" width="29.1" height="33.1" fill="#fff" stroke="#000" stroke-width="2.6"/>
<line x1="446.6" y1="592" x2="475.7" y2="592" stroke="#000" stroke-width="2.6"/>
<line x1="414.4" y1="561" x2="462.6" y2="561" stroke="#000" stroke-width="2.7"/>
<text font-size="17.2" text-anchor="middle" font-weight="bold" transform="translate(438 563) scale(1.0604 1)">**</text>
<text font-size="13.9" text-anchor="middle" font-weight="bold" transform="translate(354.9 614.7) rotate(-90) scale(1.0196 1)">CD71 <tspan font-weight="normal">Δ</tspan>MFI</text>
</svg></body></html>
